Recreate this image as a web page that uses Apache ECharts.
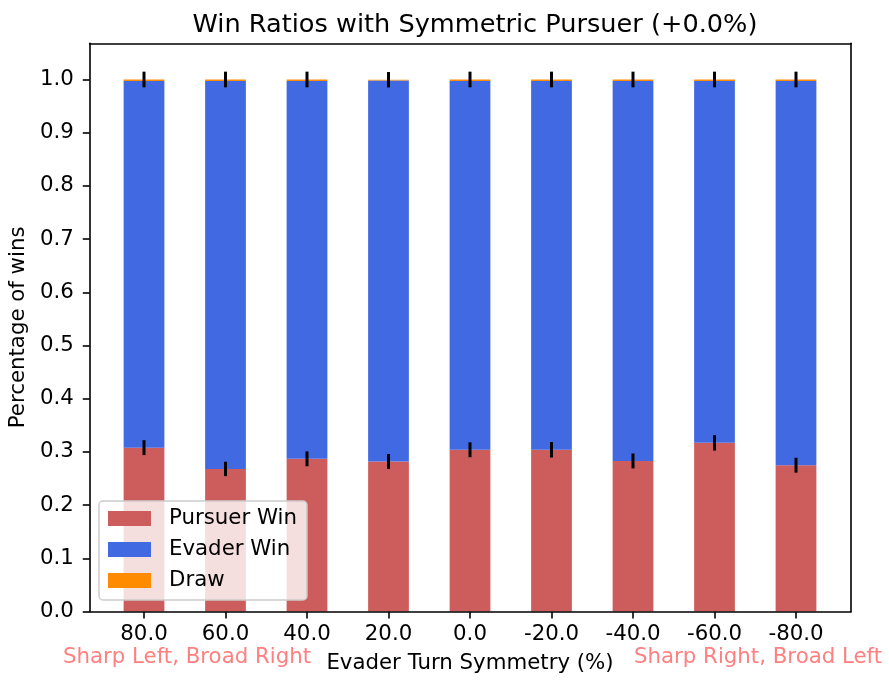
<!DOCTYPE html>
<html>
<head>
<meta charset="utf-8">
<script src="https://cdn.jsdelivr.net/npm/echarts@6/dist/echarts.min.js"></script>
<style>
html,body{margin:0;padding:0;background:#fff;}
#chart{width:889px;height:680px;}
</style>
</head>
<body>
<div id="chart"></div>
<script>
const categories = ['80.0', '60.0', '40.0', '20.0', '0.0', '-20.0', '-40.0', '-60.0', '-80.0'];
const pursuerWin = [0.308, 0.268, 0.287, 0.282, 0.304, 0.304, 0.283, 0.317, 0.275];
const evaderWin  = [0.689, 0.729, 0.710, 0.716, 0.693, 0.693, 0.714, 0.680, 0.722];
const drawRate   = [0.003, 0.003, 0.003, 0.0015, 0.003, 0.003, 0.003, 0.003, 0.003];
const pursuerErr = [0.014, 0.0135, 0.014, 0.014, 0.014, 0.0145, 0.014, 0.0145, 0.014];
const totalErr   = [0.0147, 0.0147, 0.0147, 0.0145, 0.0147, 0.0147, 0.0147, 0.0147, 0.0147];
const yTicks = [0.0, 0.1, 0.2, 0.3, 0.4, 0.5, 0.6, 0.7, 0.8, 0.9, 1.0];
const seriesNames = ['Pursuer Win', 'Evader Win', 'Draw'];
const colors = ['#CD5C5C', '#4169E1', '#FF8C00'];

const FONT = 'DejaVu Sans';
const FS = 21.3;
const YMAX = 1.068;

// error bar data: [categoryIndex, low, high]
const pursuerErrData = pursuerWin.map((v, i) => [i, v - pursuerErr[i], v + pursuerErr[i]]);
const totalErrData = pursuerWin.map((v, i) => {
  const top = v + evaderWin[i] + drawRate[i];
  return [i, top - totalErr[i], top + totalErr[i]];
});

function errRender(params, api) {
  const x = api.value(0);
  const p1 = api.coord([x, api.value(1)]);
  const p2 = api.coord([x, api.value(2)]);
  return {
    type: 'line',
    shape: { x1: p1[0], y1: p1[1], x2: p2[0], y2: p2[1] },
    style: { stroke: '#000', lineWidth: 3 }
  };
}

const frameLine = { show: true, onZero: false, lineStyle: { color: '#000', width: 1.6 } };

const chart = echarts.init(document.getElementById('chart'), null, { renderer: 'canvas' });
const option = {
  animation: false,
  textStyle: { fontFamily: FONT },
  title: {
    text: 'Win Ratios with Symmetric Pursuer (+0.0%)',
    left: 470, top: 7, textAlign: 'center',
    textStyle: { fontFamily: FONT, fontSize: 25.6, fontWeight: 'normal', color: '#000' }
  },
  legend: {
    orient: 'vertical',
    left: 99, top: 501,
    data: seriesNames,
    icon: 'rect',
    itemWidth: 43, itemHeight: 15, itemGap: 10,
    padding: [7, 10, 9, 9],
    backgroundColor: 'rgba(255,255,255,0.8)',
    borderColor: '#cccccc', borderWidth: 1.5, borderRadius: 4,
    textStyle: { fontFamily: FONT, fontSize: FS, color: '#000', padding: [0, 0, 0, 13] },
    z: 20
  },
  grid: [
    { left: 103.25, right: 52.25, top: 43.3, bottom: 68.5 },
    { left: 89, right: 38, top: 43.3, bottom: 68.5 }
  ],
  xAxis: [
    {
      type: 'category', gridIndex: 0, data: categories,
      axisLine: { show: false },
      axisTick: { show: true, alignWithLabel: true, length: 7, lineStyle: { color: '#000', width: 1.6 } },
      axisLabel: { fontFamily: FONT, fontSize: FS, color: '#000', margin: 12 },
      name: 'Evader Turn Symmetry (%)', nameLocation: 'middle', nameGap: 41,
      nameTextStyle: { fontFamily: FONT, fontSize: FS, color: '#000' }
    },
    {
      type: 'value', gridIndex: 1, min: 0, max: 1, position: 'bottom', z: 10,
      axisLine: frameLine, axisTick: { show: false }, axisLabel: { show: false }, splitLine: { show: false }
    },
    {
      type: 'value', gridIndex: 1, min: 0, max: 1, position: 'top', z: 10,
      axisLine: frameLine, axisTick: { show: false }, axisLabel: { show: false }, splitLine: { show: false }
    }
  ],
  yAxis: [
    { type: 'value', gridIndex: 0, min: 0, max: YMAX, show: false },
    {
      type: 'value', gridIndex: 1, min: 0, max: YMAX, position: 'left', z: 10,
      axisLine: frameLine,
      axisTick: { show: true, length: 7, lineStyle: { color: '#000', width: 1.6 }, customValues: yTicks },
      axisLabel: { fontFamily: FONT, fontSize: FS, color: '#000', margin: 16,
        customValues: yTicks, formatter: v => v.toFixed(1) },
      splitLine: { show: false },
      name: 'Percentage of wins', nameLocation: 'middle', nameGap: 57, nameRotate: 90,
      nameTextStyle: { fontFamily: FONT, fontSize: FS, color: '#000' }
    },
    {
      type: 'value', gridIndex: 1, min: 0, max: YMAX, position: 'right', z: 10,
      axisLine: frameLine, axisTick: { show: false }, axisLabel: { show: false }, splitLine: { show: false }
    }
  ],
  series: [
    { name: seriesNames[0], type: 'bar', stack: 'total', xAxisIndex: 0, yAxisIndex: 0,
      barWidth: '50%', data: pursuerWin, itemStyle: { color: colors[0] } },
    { name: seriesNames[1], type: 'bar', stack: 'total', xAxisIndex: 0, yAxisIndex: 0,
      barWidth: '50%', data: evaderWin, itemStyle: { color: colors[1] } },
    { name: seriesNames[2], type: 'bar', stack: 'total', xAxisIndex: 0, yAxisIndex: 0,
      barWidth: '50%', data: drawRate, itemStyle: { color: colors[2] } },
    { name: 'pursuerErr', type: 'custom', xAxisIndex: 0, yAxisIndex: 0, z: 5,
      renderItem: errRender, data: pursuerErrData, silent: true },
    { name: 'totalErr', type: 'custom', xAxisIndex: 0, yAxisIndex: 0, z: 5,
      renderItem: errRender, data: totalErrData, silent: true }
  ],
  graphic: [
    { type: 'text', left: 63, top: 647, z: 10,
      style: { text: 'Sharp Left, Broad Right', fill: '#ff8080', font: '21.3px "DejaVu Sans"' } },
    { type: 'text', left: 634, top: 647, z: 10,
      style: { text: 'Sharp Right, Broad Left', fill: '#ff8080', font: '21.3px "DejaVu Sans"' } }
  ]
};
chart.setOption(option);
</script>
</body>
</html>
